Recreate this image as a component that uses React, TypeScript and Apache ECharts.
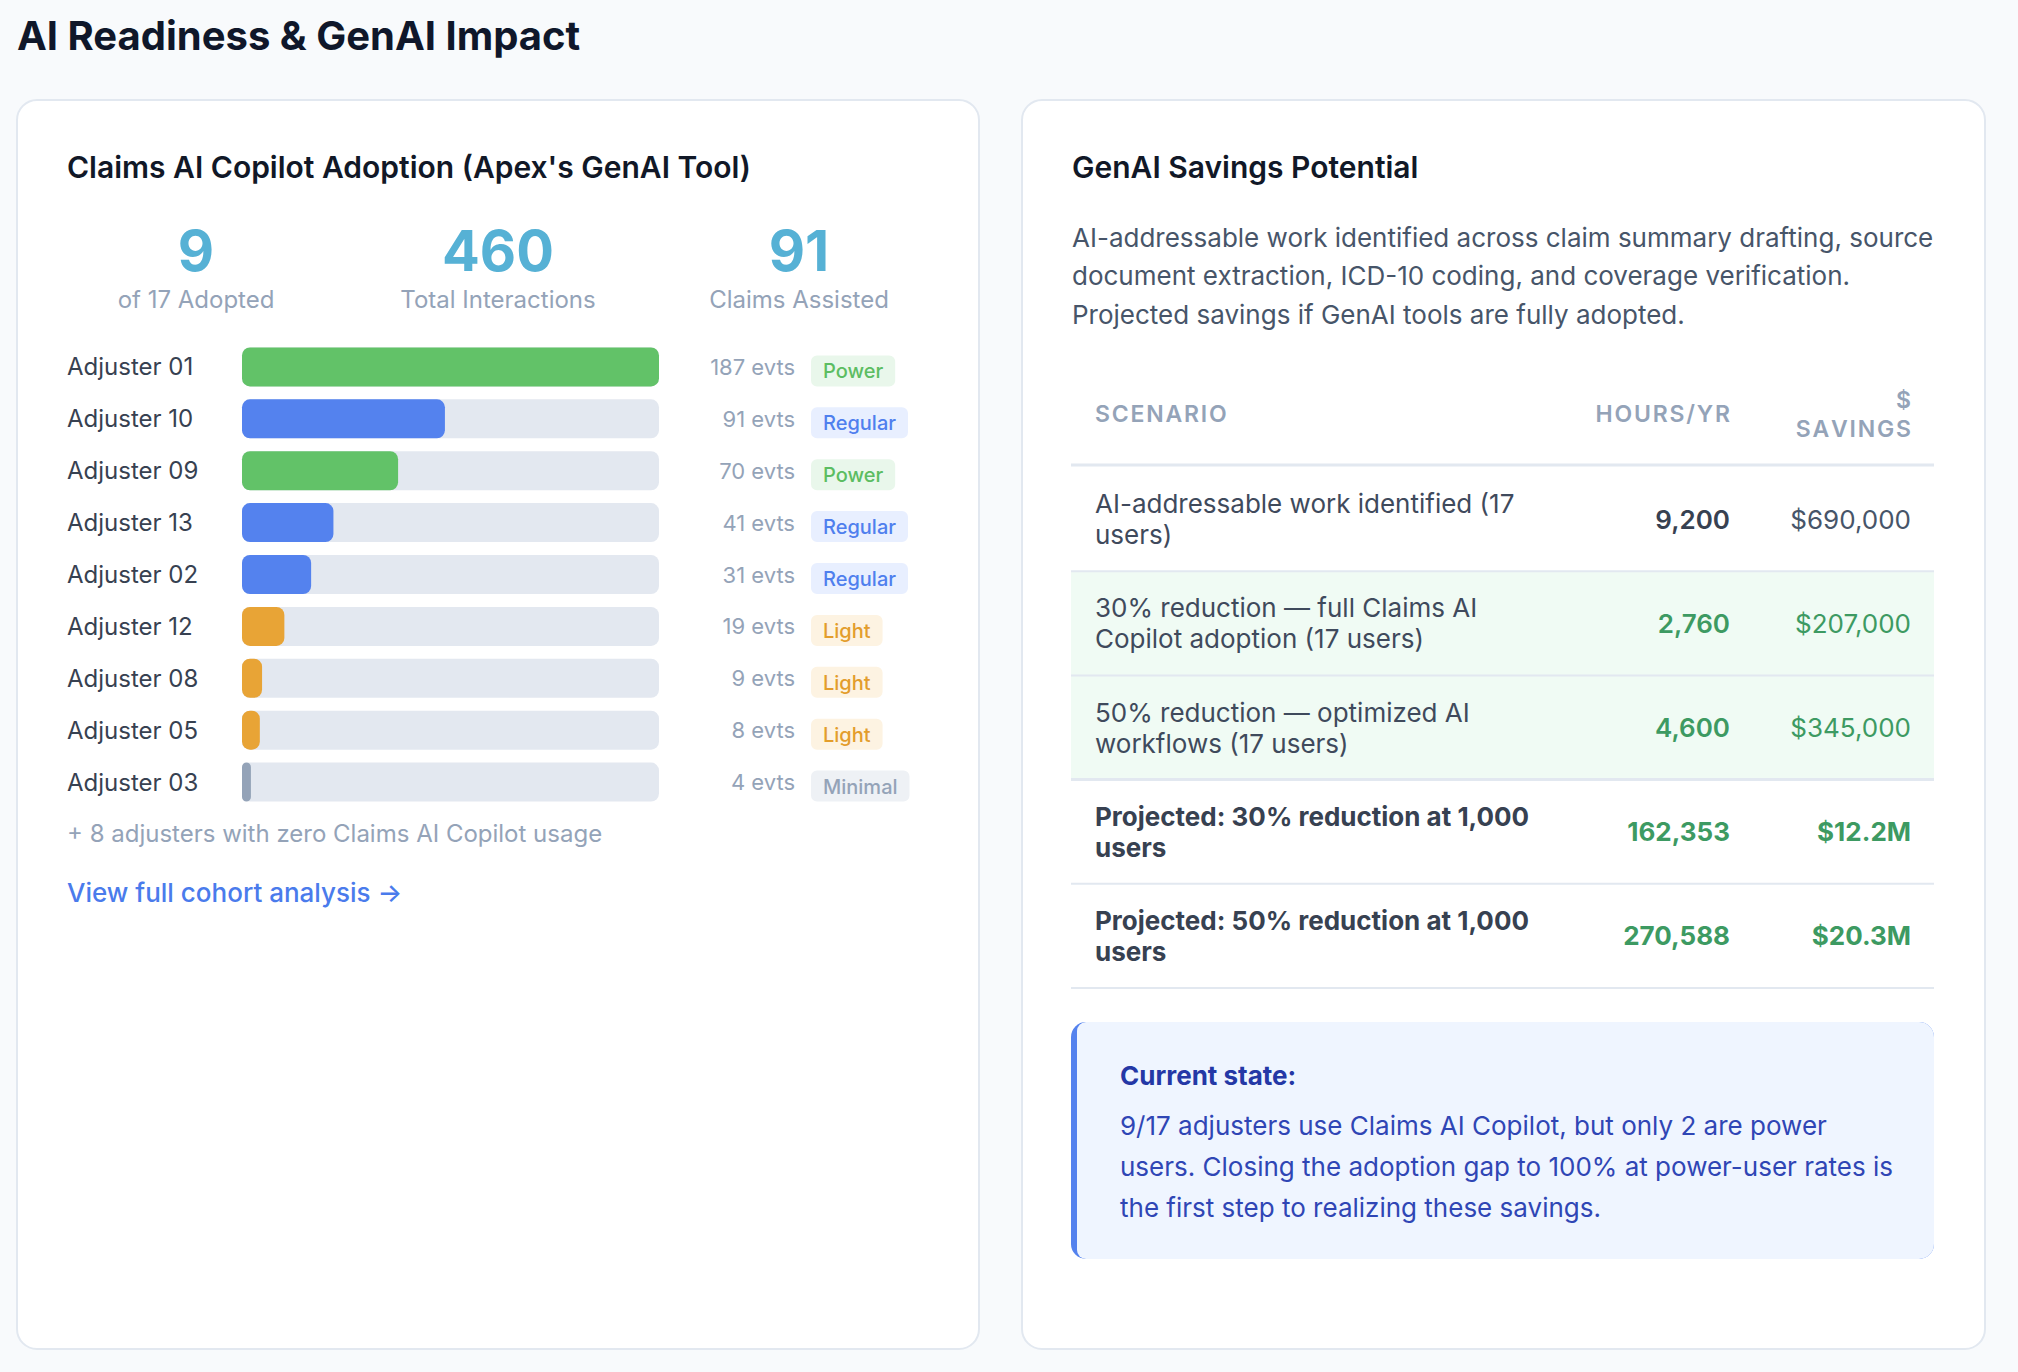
import React, { useEffect, useRef } from "react";
import * as echarts from "echarts";

const W = 2018;
const H = 1372;
const FONT = "Inter";

// ---------- data ----------
const pageTitle = "AI Readiness & GenAI Impact";
const leftTitle = "Claims AI Copilot Adoption (Apex's GenAI Tool)";
const statValues = ["9", "460", "91"];
const statLabels = ["of 17 Adopted", "Total Interactions", "Claims Assisted"];
const adjusters = [
  "Adjuster 01",
  "Adjuster 10",
  "Adjuster 09",
  "Adjuster 13",
  "Adjuster 02",
  "Adjuster 12",
  "Adjuster 08",
  "Adjuster 05",
  "Adjuster 03",
];
const events = [187, 91, 70, 41, 31, 19, 9, 8, 4];
const tiers = ["Power", "Regular", "Power", "Regular", "Regular", "Light", "Light", "Light", "Minimal"];
const footnote = "+ 8 adjusters with zero Claims AI Copilot usage";
const linkText = "View full cohort analysis →";

const rightTitle = "GenAI Savings Potential";
const introLines = [
  "AI-addressable work identified across claim summary drafting, source",
  "document extraction, ICD-10 coding, and coverage verification.",
  "Projected savings if GenAI tools are fully adopted.",
];
const headerScenario = "SCENARIO";
const headerHours = "HOURS/YR";
const headerSavings = ["$", "SAVINGS"];
const scenarioLines = [
  ["AI-addressable work identified (17", "users)"],
  ["30% reduction — full Claims AI", "Copilot adoption (17 users)"],
  ["50% reduction — optimized AI", "workflows (17 users)"],
  ["Projected: 30% reduction at 1,000", "users"],
  ["Projected: 50% reduction at 1,000", "users"],
];
const hoursValues = ["9,200", "2,760", "4,600", "162,353", "270,588"];
const savingsValues = ["$690,000", "$207,000", "$345,000", "$12.2M", "$20.3M"];
const rowKinds = ["base", "green", "green", "projected", "projected"];
const calloutTitle = "Current state:";
const calloutLines = [
  "9/17 adjusters use Claims AI Copilot, but only 2 are power",
  "users. Closing the adoption gap to 100% at power-user rates is",
  "the first step to realizing these savings.",
];

// ---------- styles ----------
const tierStyle: Record<string, { bar: string; bg: string; fg: string }> = {
  Power: { bar: "#62c268", bg: "#e9f7eb", fg: "#5cbd62" },
  Regular: { bar: "#5482ee", bg: "#e8efff", fg: "#4f7fee" },
  Light: { bar: "#e8a436", bg: "#fdf3e2", fg: "#e39d2c" },
  Minimal: { bar: "#94a3b8", bg: "#eef1f5", fg: "#94a3b8" },
};

const txt = (
  text: string,
  x: number,
  y: number,
  size: number,
  color: string,
  weight: number | string = 400,
  align = "left"
) => ({
  type: "text",
  x,
  y,
  z: 10,
  style: {
    text,
    fontSize: size,
    fontWeight: weight,
    fontFamily: FONT,
    fill: color,
    align,
    verticalAlign: "middle",
  },
});

let measureCtx: CanvasRenderingContext2D | null = null;
const measure = (s: string, size: number, weight: number) => {
  if (!measureCtx) measureCtx = document.createElement("canvas").getContext("2d");
  measureCtx!.font = `${weight} ${size}px ${FONT}`;
  return measureCtx!.measureText(s).width;
};

// letter-spaced text (uppercase table headers)
const spaced = (
  text: string,
  x: number,
  y: number,
  size: number,
  color: string,
  weight: number,
  spacing: number,
  align: "left" | "right"
) => {
  const chars = text.split("");
  const widths = chars.map((c) => measure(c, size, weight));
  const total = widths.reduce((a, b) => a + b, 0) + spacing * (chars.length - 1);
  let cx = align === "right" ? x - total : x;
  const out: any[] = [];
  chars.forEach((c, i) => {
    out.push(txt(c, cx, y, size, color, weight, "left"));
    cx += widths[i] + spacing;
  });
  return out;
};

const rect = (x: number, y: number, w: number, h: number, fill: string, r: any = 0, stroke?: string, lw = 0, z = 1) => ({
  type: "rect",
  z,
  shape: { x, y, width: w, height: h, r },
  style: stroke ? { fill, stroke, lineWidth: lw } : { fill },
});

const hline = (x1: number, x2: number, y: number, color: string, lw: number) => ({
  type: "line",
  z: 5,
  shape: { x1, y1: y, x2, y2: y },
  style: { stroke: color, lineWidth: lw },
});

export default function App() {
  const ref = useRef<HTMLDivElement>(null);

  useEffect(() => {
    document.body.style.margin = "0";
    document.body.style.overflow = "hidden";
    if (!ref.current) return;
    const chart = echarts.init(ref.current, undefined, { renderer: "svg", width: W, height: H });

    const graphics: any[] = [];
    // page title
    graphics.push(txt(pageTitle, 17, 35, 40, "#0f172a", 700));
    // cards
    graphics.push(rect(17, 100, 962, 1249, "#ffffff", 20, "#e2e8f0", 2, -5));
    graphics.push(rect(1022, 100, 963, 1249, "#ffffff", 20, "#e2e8f0", 2, -5));

    // left card
    graphics.push(txt(leftTitle, 67, 167, 30, "#111827", 600));
    const statX = [196, 498, 799];
    statValues.forEach((v, i) => {
      graphics.push(txt(v, statX[i], 251, 56, "#56b1d5", 700, "center"));
      graphics.push(txt(statLabels[i], statX[i], 299, 24, "#94a3b8", 400, "center"));
    });
    graphics.push(txt(footnote, 67, 833, 24, "#94a3b8"));
    graphics.push(txt(linkText, 67, 892, 26, "#4a7bec", 500));

    // right card
    const tx0 = 1071;
    const tx1 = 1934;
    graphics.push(txt(rightTitle, 1072, 167, 30, "#111827", 600));
    introLines.forEach((l, i) => graphics.push(txt(l, 1072, 237 + i * 38.6, 26, "#475569")));

    // table header
    const colScenario = 1095;
    const colHours = 1730;
    const colSavings = 1911;
    graphics.push(...spaced(headerScenario, colScenario, 414, 23, "#94a3b8", 600, 1.8, "left"));
    graphics.push(...spaced(headerHours, colHours, 414, 23, "#94a3b8", 600, 1.8, "right"));
    graphics.push(...spaced(headerSavings[0], colSavings, 400, 23, "#94a3b8", 600, 1.8, "right"));
    graphics.push(...spaced(headerSavings[1], colSavings, 429, 23, "#94a3b8", 600, 1.8, "right"));
    graphics.push(hline(tx0, tx1, 465, "#e2e8f0", 3));

    const rowTop = 467;
    const rowH = 104.2;
    scenarioLines.forEach((lines, i) => {
      const top = rowTop + i * rowH;
      const cy = top + rowH / 2;
      const kind = rowKinds[i];
      if (kind === "green") graphics.push(rect(tx0, top, tx1 - tx0, rowH, "#f0fbf4", 0, undefined, 0, 0));
      const textColor = kind === "projected" ? "#374151" : "#3f4a5c";
      const textWeight = kind === "projected" ? 700 : 400;
      lines.forEach((l, j) =>
        graphics.push(txt(l, colScenario, cy + (j - (lines.length - 1) / 2) * 31, 26, textColor, textWeight))
      );
      const valColor = kind === "base" ? "#374151" : "#3d9a62";
      graphics.push(txt(hoursValues[i], colHours, cy, 26, valColor, kind === "projected" ? 700 : 600, "right"));
      graphics.push(
        txt(
          savingsValues[i],
          colSavings,
          cy,
          26,
          kind === "base" ? "#475569" : "#3d9a62",
          kind === "projected" ? 700 : 400,
          "right"
        )
      );
      const thick = i === 2;
      graphics.push(hline(tx0, tx1, top + rowH, "#e2e8f0", thick ? 3 : 2));
    });

    // callout
    graphics.push(rect(tx0, 1022, tx1 - tx0, 237, "#5482ee", 15, undefined, 0, 1));
    graphics.push(rect(tx0 + 6, 1022, tx1 - tx0 - 6, 237, "#eff5ff", [9, 15, 15, 9], undefined, 0, 2));
    graphics.push(txt(calloutTitle, 1120, 1075, 26, "#2438a6", 700));
    calloutLines.forEach((l, i) => graphics.push(txt(l, 1120, 1125 + i * 41.2, 26, "#2f46b5")));

    const richBadges: Record<string, any> = {};
    Object.keys(tierStyle).forEach((k) => {
      richBadges[k] = {
        backgroundColor: tierStyle[k].bg,
        color: tierStyle[k].fg,
        fontSize: 20,
        fontWeight: 500,
        fontFamily: FONT,
        padding: [6, 12, 5, 12],
        borderRadius: 6,
      };
    });

    const maxEvents = Math.max(...events);

    chart.setOption({
      animation: false,
      backgroundColor: "#f8fafc",
      textStyle: { fontFamily: FONT },
      grid: { left: 242, right: W - 659, top: 341, height: 467, containLabel: false },
      xAxis: { type: "value", min: 0, max: maxEvents, show: false },
      yAxis: [
        {
          type: "category",
          data: adjusters,
          inverse: true,
          axisLine: { show: false },
          axisTick: { show: false },
          axisLabel: {
            interval: 0,
            align: "left",
            margin: 175,
            fontSize: 24,
            color: "#374151",
            fontFamily: FONT,
          },
        },
        {
          type: "category",
          data: adjusters,
          inverse: true,
          position: "right",
          axisLine: { show: false },
          axisTick: { show: false },
          axisLabel: {
            interval: 0,
            align: "right",
            margin: 136,
            fontSize: 22,
            color: "#94a3b8",
            fontFamily: FONT,
            formatter: (_v: string, i: number) => `${events[i]} evts`,
          },
        },
        {
          type: "category",
          data: adjusters,
          inverse: true,
          position: "right",
          offset: 0,
          axisLine: { show: false },
          axisTick: { show: false },
          axisLabel: {
            interval: 0,
            align: "left",
            margin: 152,
            padding: [8, 0, 0, 0],
            formatter: (_v: string, i: number) => `{${tiers[i]}|${tiers[i]}}`,
            rich: richBadges,
          },
        },
      ],
      series: [
        {
          type: "bar",
          yAxisIndex: 0,
          barWidth: 39,
          data: events.map((v, i) => ({ value: v, itemStyle: { color: tierStyle[tiers[i]].bar } })),
          itemStyle: { borderRadius: 8 },
          showBackground: true,
          backgroundStyle: { color: "#e3e8f0", borderRadius: 8 },
        },
      ],
      graphic: { elements: graphics },
    });

    return () => chart.dispose();
  }, []);

  return <div ref={ref} style={{ width: W, height: H }} />;
}
